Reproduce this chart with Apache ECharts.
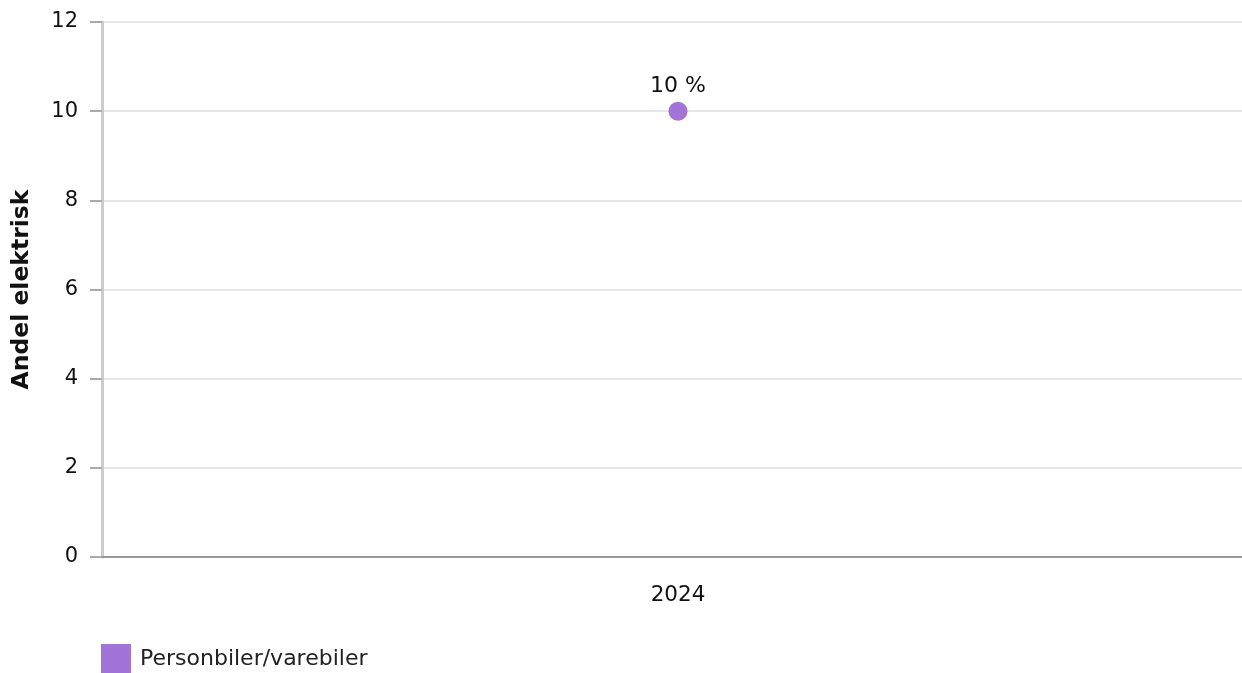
<!DOCTYPE html>
<html>
<head>
<meta charset="utf-8">
<script src="https://cdn.jsdelivr.net/npm/echarts@6/dist/echarts.min.js"></script>
<style>
html,body{margin:0;padding:0;background:#fff;overflow:hidden;width:1242px;height:673px;}
#chart{width:1254px;height:673px;}
</style>
</head>
<body>
<div id="chart"></div>
<script>
const categories = ["2024"];
const seriesName = "Personbiler/varebiler";
const seriesValues = [10];
const yTicks = { min: 0, max: 12, interval: 2 };
const yAxisTitle = "Andel elektrisk";

const font = "'DejaVu Sans', Verdana, sans-serif";
const chart = echarts.init(document.getElementById('chart'));
chart.setOption({
  animation: false,
  grid: { left: 102, top: 22, right: 0, bottom: 116, containLabel: false },
  legend: {
    left: 101, top: 644, itemWidth: 30, itemHeight: 30, itemGap: 10, padding: 0,
    icon: 'rect',
    textStyle: { fontFamily: font, fontSize: 22, color: '#222', padding: [4, 0, 0, 4] },
    data: [seriesName]
  },
  xAxis: {
    type: 'category',
    data: categories,
    axisLine: { lineStyle: { color: '#999', width: 2 } },
    axisTick: { alignWithLabel: true, length: 7, lineStyle: { color: '#bbb', width: 2 } },
    axisLabel: { fontFamily: font, fontSize: 21.5, color: '#111', margin: 27 }
  },
  yAxis: {
    type: 'value',
    min: yTicks.min, max: yTicks.max, interval: yTicks.interval,
    name: yAxisTitle,
    nameLocation: 'middle',
    nameGap: 68,
    nameTextStyle: { fontFamily: font, fontSize: 23.5, fontWeight: 'bold', color: '#111' },
    axisLine: { show: true, lineStyle: { color: '#ccc', width: 3 } },
    axisTick: { show: true, length: 12, lineStyle: { color: '#aaa', width: 2 } },
    axisLabel: { fontFamily: font, fontSize: 21, color: '#111', margin: 24, padding: [8, 0, 0, 0] },
    splitLine: { lineStyle: { color: '#e6e6e6', width: 2 } }
  },
  series: [{
    name: seriesName,
    type: 'line',
    data: seriesValues,
    symbol: 'circle',
    symbolSize: 19,
    itemStyle: { color: '#a374d8' },
    label: {
      show: true, position: 'top', distance: 4,
      formatter: p => p.value + ' %',
      fontFamily: font, fontSize: 22, color: '#111'
    }
  }]
});
</script>
</body>
</html>
